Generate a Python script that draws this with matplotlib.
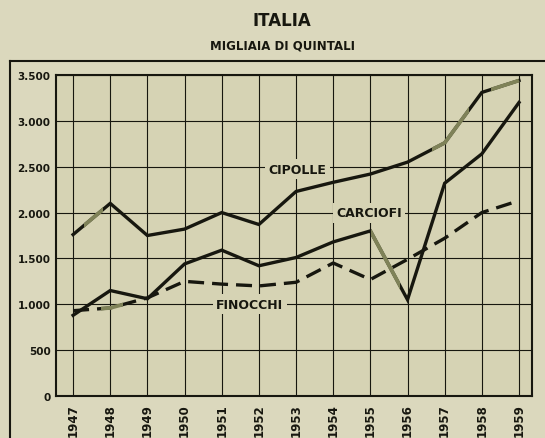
import matplotlib
matplotlib.use("Agg")
import matplotlib.pyplot as plt
from matplotlib.patches import Rectangle
from matplotlib.lines import Line2D

years = [1947, 1948, 1949, 1950, 1951, 1952, 1953, 1954, 1955, 1956, 1957, 1958, 1959]
cipolle = [1760, 2100, 1750, 1820, 2000, 1870, 2230, 2330, 2420, 2550, 2760, 3310, 3440]
carciofi = [880, 1150, 1060, 1440, 1590, 1420, 1510, 1680, 1800, 1050, 2320, 2640, 3200]
finocchi = [930, 960, 1070, 1250, 1220, 1200, 1240, 1450, 1270, 1490, 1720, 2000, 2130]
yticks = [0, 500, 1000, 1500, 2000, 2500, 3000, 3500]
ytick_labels = ["0", "500", "1.000", "1.500", "2.000", "2.500", "3.000", "3.500"]

FIG_BG = "#dbd8bd"
AX_BG = "#d6d3b4"
INK = "#17170f"
FADE = "#7f8258"

fig = plt.figure(figsize=(5.45, 4.39), dpi=100, facecolor=FIG_BG)
ax = fig.add_axes([56/545, 1-397/439, (532-56)/545, (397-76)/439], facecolor=AX_BG)

ax.set_xlim(1946.54, 1959.35)
ax.set_ylim(0, 3500)
ax.set_xticks(years)
ax.set_xticklabels([str(y) for y in years], rotation=90, fontsize=8.5,
                   fontweight="bold", color=INK)
ax.set_yticks(yticks)
ax.set_yticklabels(ytick_labels, fontsize=7.5, fontweight="bold", color=INK)
ax.tick_params(length=0, pad=4)
ax.tick_params(axis="x", pad=5)
ax.grid(True, color=INK, lw=0.8, zorder=1)
ax.set_axisbelow(True)
for s in ax.spines.values():
    s.set_color(INK)
    s.set_linewidth(1.5)

lw = 2.4
ax.plot(years, cipolle, color=INK, lw=lw, solid_joinstyle="miter", zorder=3)
ax.plot(years, carciofi, color=INK, lw=lw, solid_joinstyle="miter", zorder=3)
ax.plot(years, finocchi, color=INK, lw=lw, dashes=(4.8, 2.4), zorder=3)

def faded(y, x0, x1, **kw):
    ln, = ax.plot(years, y, color=FADE, lw=lw + 0.3, zorder=4,
                  solid_capstyle="butt", **kw)
    ln.set_clip_path(Rectangle((x0, -100), x1 - x0, 3700, transform=ax.transData))

faded(cipolle, 1947.3, 1947.8)
faded(cipolle, 1956.65, 1957.65)
faded(cipolle, 1958.25, 1959.05)
faded(carciofi, 1955.02, 1955.8)
faded(finocchi, 1947.75, 1948.35)

bbox = dict(facecolor=AX_BG, edgecolor="none", pad=2.5)
ax.text(1953.03, 2470, "CIPOLLE", ha="center", va="center", fontsize=9,
        fontweight="bold", color=INK, bbox=bbox, zorder=2)
ax.text(1954.96, 2000, "CARCIOFI", ha="center", va="center", fontsize=9,
        fontweight="bold", color=INK, bbox=bbox, zorder=2)
ax.text(1951.75, 1000, "FINOCCHI", ha="center", va="center", fontsize=9,
        fontweight="bold", color=INK, bbox=bbox, zorder=2)

fig.text(282/545, 1-21/439, "ITALIA", ha="center", va="center", fontsize=12,
         fontweight="semibold", color=INK)
fig.text(282/545, 1-46/439, "MIGLIAIA DI QUINTALI", ha="center", va="center",
         fontsize=8.5, fontweight="bold", color=INK)

# outer frame
fig.add_artist(Line2D([10/545, 1.0], [1-62/439, 1-62/439], color=INK, lw=1.5,
                      transform=fig.transFigure))
fig.add_artist(Line2D([10/545, 10/545], [0, 1-62/439], color=INK, lw=1.5,
                      transform=fig.transFigure))

fig.savefig("out.png", dpi=100, facecolor=FIG_BG)
